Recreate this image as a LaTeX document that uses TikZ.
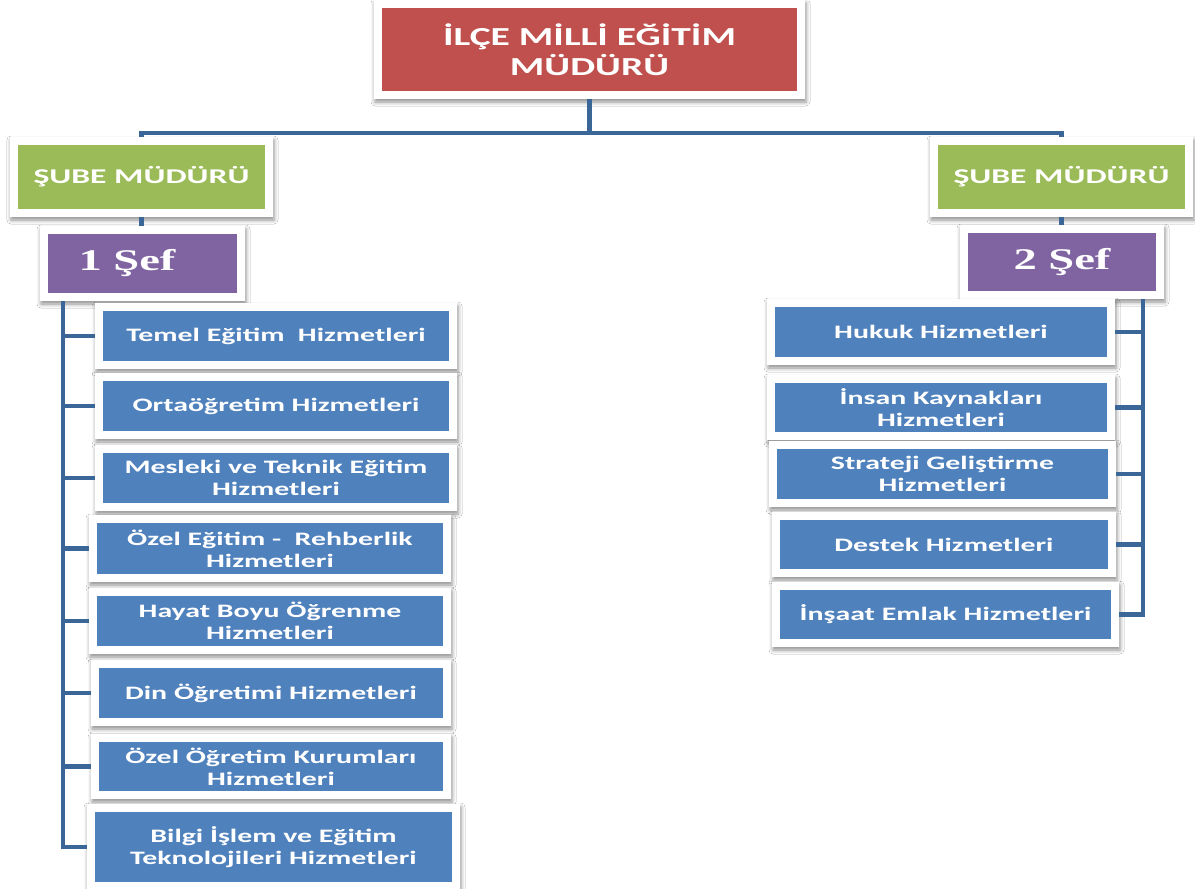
\documentclass[tikz,border=0pt]{standalone}
\usepackage{fontspec}
\setmainfont{Carlito}[FakeStretch=1.57]
\newfontfamily\subefont{Carlito}[FakeStretch=1.6]
\newfontfamily\topfont{Carlito}[FakeStretch=1.52]
\newfontfamily\seffont{Liberation Serif}[FakeStretch=1.55]
\usetikzlibrary{shadows.blur}
\definecolor{redbox}{RGB}{192,80,77}
\definecolor{greenbox}{RGB}{155,187,89}
\definecolor{purplebox}{RGB}{128,100,162}
\definecolor{bluebox}{RGB}{79,129,189}
\definecolor{linkc}{RGB}{58,102,152}
\begin{document}
\begin{tikzpicture}[x=1pt,y=-1pt,
  card/.style={fill=white, text=white, align=center, inner sep=0pt, outer sep=0pt,
    blur shadow={shadow xshift=1pt, shadow yshift=-3pt, shadow blur radius=4pt, shadow opacity=45},
    path picture={\fill[#1] ([xshift=8pt,yshift=8pt]path picture bounding box.south west)
      rectangle ([xshift=-8pt,yshift=-8pt]path picture bounding box.north east);}},
  topcard/.style={card=redbox, font=\fontsize{26}{30}\topfont\bfseries},
  subecard/.style={card=greenbox, font=\fontsize{21}{24}\subefont\bfseries},
  sefcard/.style={card=purplebox, font=\fontsize{30}{34}\seffont\bfseries},
  unitcard/.style={card=bluebox, font=\fontsize{19}{22}\selectfont\bfseries},
  link/.style={draw=linkc, line width=4.5pt}
]
\useasboundingbox[fill=white] (0,0) rectangle (1195,889);

% top
\node[topcard, minimum width=431pt, minimum height=99pt] (top) at (589.5,49.5) {İLÇE MİLLİ EĞİTİM\\MÜDÜRÜ};
% sube
\node[subecard, minimum width=263pt, minimum height=80pt] (sube1) at (141.5,177) {ŞUBE MÜDÜRÜ};
\node[subecard, minimum width=263pt, minimum height=80pt] (sube2) at (1061.5,177) {ŞUBE MÜDÜRÜ};
% sef
\node[sefcard, minimum width=205pt, minimum height=75pt] (sef1) at (142.5,263.5) {1 Şef\hspace*{31pt}};
\node[sefcard, minimum width=204pt, minimum height=74pt] (sef2) at (1062,262) {2 Şef};

% left units
\node[unitcard, minimum width=362pt, minimum height=66pt] (u1) at (276,336) {Temel Eğitim\ \ Hizmetleri};
\node[unitcard, minimum width=362pt, minimum height=66pt] (u2) at (276,406) {Ortaöğretim Hizmetleri};
\node[unitcard, minimum width=362pt, minimum height=66pt] (u3) at (276,478) {Mesleki ve Teknik Eğitim\\Hizmetleri};
\node[unitcard, minimum width=362pt, minimum height=67pt] (u4) at (270,548.5) {Özel Eğitim -\ \ Rehberlik\\Hizmetleri};
\node[unitcard, minimum width=362pt, minimum height=66pt] (u5) at (270,621) {Hayat Boyu Öğrenme\\Hizmetleri};
\node[unitcard, minimum width=360pt, minimum height=66pt] (u6) at (271,693) {Din Öğretimi Hizmetleri};
\node[unitcard, minimum width=360pt, minimum height=65pt] (u7) at (271,766.5) {Özel Öğretim Kurumları\\Hizmetleri};
\node[unitcard, minimum width=373pt, minimum height=86pt] (u8) at (273.5,847) {Bilgi İşlem ve Eğitim\\Teknolojileri Hizmetleri};

% right units
\node[unitcard, minimum width=348pt, minimum height=66pt] (r1) at (941,332) {Hukuk Hizmetleri};
\node[unitcard, minimum width=348pt, minimum height=65pt] (r2) at (941,407.5) {İnsan Kaynakları\\Hizmetleri};
\node[unitcard, minimum width=347pt, minimum height=66pt] (r3) at (942.5,474) {Strateji Geliştirme\\Hizmetleri};
\node[unitcard, minimum width=344pt, minimum height=65pt] (r4) at (944,544.5) {Destek Hizmetleri};
\node[unitcard, minimum width=347pt, minimum height=65pt] (r5) at (945.5,614.5) {İnşaat Emlak Hizmetleri};

% connectors
\coordinate (bar) at (0,133);
\coordinate (lspine) at (63,0);
\coordinate (rspine) at (1143,0);
\draw[link] (top.south) -- (top.south |- bar) -| (sube1.north);
\draw[link] (top.south) -- (top.south |- bar) -| (sube2.north);
\draw[link] (sube1.south) -- (sube1.south |- sef1.north);
\draw[link] (sube2.south) -- (sube2.south |- sef2.north);
\foreach \u in {u1,u2,u3,u4,u5,u6,u7,u8}
  \draw[link] (sef1.south -| lspine) |- (\u.west);
\foreach \r in {r1,r2,r3,r4,r5}
  \draw[link] (sef2.south -| rspine) |- (\r.east);
\end{tikzpicture}
\end{document}
